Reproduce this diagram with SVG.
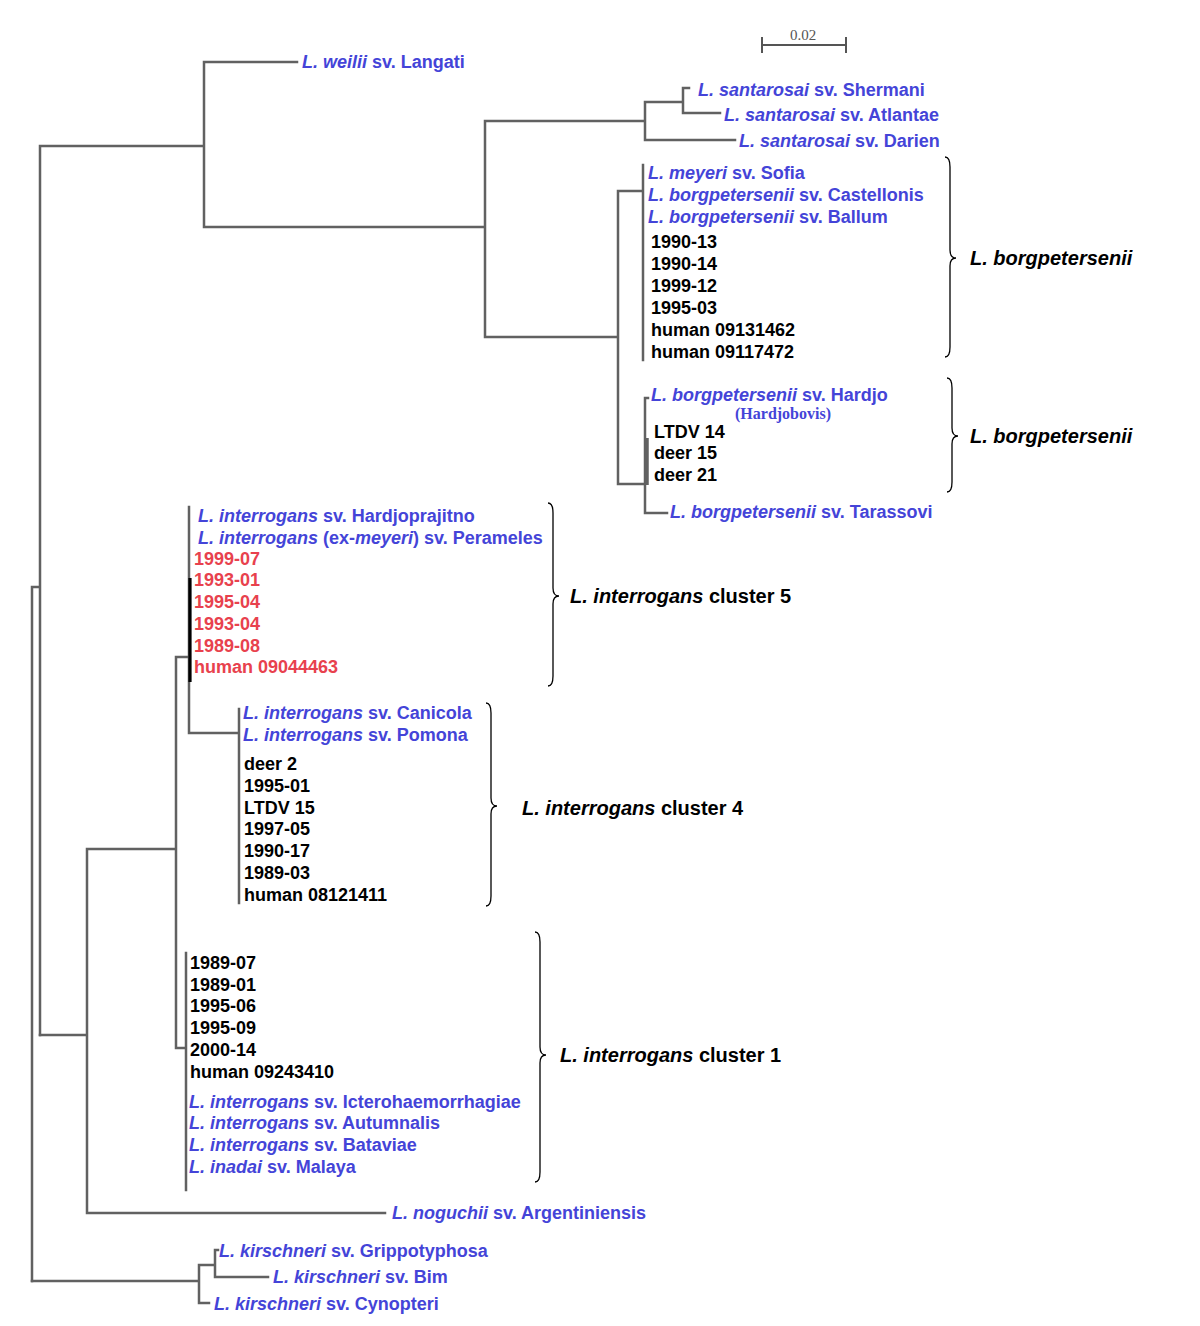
<svg xmlns="http://www.w3.org/2000/svg" width="1200" height="1326" viewBox="0 0 1200 1326">
<style>
.e{fill:none;stroke:#616161;stroke-width:2.5;stroke-linecap:square}
.br{fill:none;stroke:#000;stroke-width:1.3}
text{font-family:"Liberation Sans",Arial,sans-serif;font-size:18px;font-weight:bold}
.cl{font-size:20px}
.b{fill:#4444d8}
.k{fill:#000}
.r{fill:#e8414d}
.i{font-style:italic}
.s{font-family:"Liberation Serif","Times New Roman",serif}
</style>
<rect width="1200" height="1326" fill="#fff"/>
<g id="connectors">
<path class="e" d="M32,587V1281M32,587H40M40,146V1035M40,146H204M204,62V227M204,62H297M204,227H485M485,121V337M485,121H645M645,102V140M645,102H683M683,88V113M683,88H689M683,113H720M645,140H735M485,337H618M618,191V484M618,191H643M643,165V360M618,484H645M645,398V513M645,398H648M645,513H667"/>
<path d="M646.5,438V485" stroke="#616161" stroke-width="4.5" fill="none"/>
<path class="e" d="M40,1035H87M87,849V1213M87,849H176M176,657V1048M176,657H189M189,507V733M189,733H239M239,709V903M176,1048H186M186,953V1190M87,1213H385"/>
<path d="M190,578V682" stroke="#000" stroke-width="3.2" fill="none"/>
<path class="e" d="M32,1281H199M199,1265V1303M199,1303H209M199,1265H215M215,1250V1277M215,1250H218M215,1277H268"/>
</g>
<g id="scale">
<path d="M762,45H846M762,37V53M846,37V53" stroke="#555" stroke-width="2" fill="none"/>
<text x="803" y="40" text-anchor="middle" class="s" style="font-size:15px;font-weight:normal;fill:#555">0.02</text>
</g>
<g id="brackets">
<path id="brace-b1" class="br" d="M945,157Q950,157 950,167L950,250Q950,258 956,258Q950,258 950,266L950,347Q950,357 945,357"/>
<path id="brace-b2" class="br" d="M947,378Q952,378 952,388L952,428Q952,436 958,436Q952,436 952,444L952,482Q952,492 947,492"/>
<path id="brace-c5" class="br" d="M548,503Q553,503 553,513L553,588Q553,596 559,596Q553,596 553,604L553,676Q553,686 548,686"/>
<path id="brace-c4" class="br" d="M486,703Q491,703 491,713L491,798Q491,806 497,806Q491,806 491,814L491,896Q491,906 486,906"/>
<path id="brace-c1" class="br" d="M535,932Q540,932 540,942L540,1047Q540,1055 546,1055Q540,1055 540,1063L540,1172Q540,1182 535,1182"/>
</g>
<g id="cluster-labels">
<text class="k i cl" x="970" y="265">L. borgpetersenii</text>
<text class="k i cl" x="970" y="443">L. borgpetersenii</text>
<text class="k cl" x="570" y="603"><tspan class="i">L. interrogans</tspan> cluster 5</text>
<text class="k cl" x="522" y="815"><tspan class="i">L. interrogans</tspan> cluster 4</text>
<text class="k cl" x="560" y="1062"><tspan class="i">L. interrogans</tspan> cluster 1</text>
</g>
<g id="leaves-top">
<text class="b" x="302" y="68"><tspan class="i">L. weilii</tspan> sv. Langati</text>
<text class="b" x="698" y="96"><tspan class="i">L. santarosai</tspan> sv. Shermani</text>
<text class="b" x="724" y="121"><tspan class="i">L. santarosai</tspan> sv. Atlantae</text>
<text class="b" x="739" y="147"><tspan class="i">L. santarosai</tspan> sv. Darien</text>
</g>
<g id="borgpetersenii-1">
<text class="b" x="648" y="179"><tspan class="i">L. meyeri</tspan> sv. Sofia</text>
<text class="b" x="648" y="201"><tspan class="i">L. borgpetersenii</tspan> sv. Castellonis</text>
<text class="b" x="648" y="223"><tspan class="i">L. borgpetersenii</tspan> sv. Ballum</text>
<text class="k" x="651" y="248">1990-13</text>
<text class="k" x="651" y="270">1990-14</text>
<text class="k" x="651" y="292">1999-12</text>
<text class="k" x="651" y="314">1995-03</text>
<text class="k" x="651" y="336">human 09131462</text>
<text class="k" x="651" y="358">human 09117472</text>
</g>
<g id="borgpetersenii-2">
<text class="b" x="651" y="401"><tspan class="i">L. borgpetersenii</tspan> sv. Hardjo</text>
<text class="b s" x="783" y="419" text-anchor="middle" style="font-size:16px">(Hardjobovis)</text>
<text class="k" x="654" y="438">LTDV 14</text>
<text class="k" x="654" y="459">deer 15</text>
<text class="k" x="654" y="481">deer 21</text>
<text class="b" x="670" y="518"><tspan class="i">L. borgpetersenii</tspan> sv. Tarassovi</text>
</g>
<g id="cluster-5">
<text class="b" x="198" y="522"><tspan class="i">L. interrogans</tspan> sv. Hardjoprajitno</text>
<text class="b" x="198" y="544"><tspan class="i">L. interrogans</tspan> (ex-<tspan class="i">meyeri</tspan>) sv. Perameles</text>
<text class="r" x="194" y="565">1999-07</text>
<text class="r" x="194" y="586">1993-01</text>
<text class="r" x="194" y="608">1995-04</text>
<text class="r" x="194" y="630">1993-04</text>
<text class="r" x="194" y="652">1989-08</text>
<text class="r" x="194" y="673">human 09044463</text>
</g>
<g id="cluster-4">
<text class="b" x="243" y="719"><tspan class="i">L. interrogans</tspan> sv. Canicola</text>
<text class="b" x="243" y="741"><tspan class="i">L. interrogans</tspan> sv. Pomona</text>
<text class="k" x="244" y="770">deer 2</text>
<text class="k" x="244" y="792">1995-01</text>
<text class="k" x="244" y="814">LTDV 15</text>
<text class="k" x="244" y="835">1997-05</text>
<text class="k" x="244" y="857">1990-17</text>
<text class="k" x="244" y="879">1989-03</text>
<text class="k" x="244" y="901">human 08121411</text>
</g>
<g id="cluster-1">
<text class="k" x="190" y="969">1989-07</text>
<text class="k" x="190" y="991">1989-01</text>
<text class="k" x="190" y="1012">1995-06</text>
<text class="k" x="190" y="1034">1995-09</text>
<text class="k" x="190" y="1056">2000-14</text>
<text class="k" x="190" y="1078">human 09243410</text>
<text class="b" x="189" y="1108"><tspan class="i">L. interrogans</tspan> sv. Icterohaemorrhagiae</text>
<text class="b" x="189" y="1129"><tspan class="i">L. interrogans</tspan> sv. Autumnalis</text>
<text class="b" x="189" y="1151"><tspan class="i">L. interrogans</tspan> sv. Bataviae</text>
<text class="b" x="189" y="1173"><tspan class="i">L. inadai</tspan> sv. Malaya</text>
</g>
<g id="leaves-bottom">
<text class="b" x="392" y="1219"><tspan class="i">L. noguchii</tspan> sv. Argentiniensis</text>
<text class="b" x="219" y="1257"><tspan class="i">L. kirschneri</tspan> sv. Grippotyphosa</text>
<text class="b" x="273" y="1283"><tspan class="i">L. kirschneri</tspan> sv. Bim</text>
<text class="b" x="214" y="1310"><tspan class="i">L. kirschneri</tspan> sv. Cynopteri</text>
</g>
</svg>
